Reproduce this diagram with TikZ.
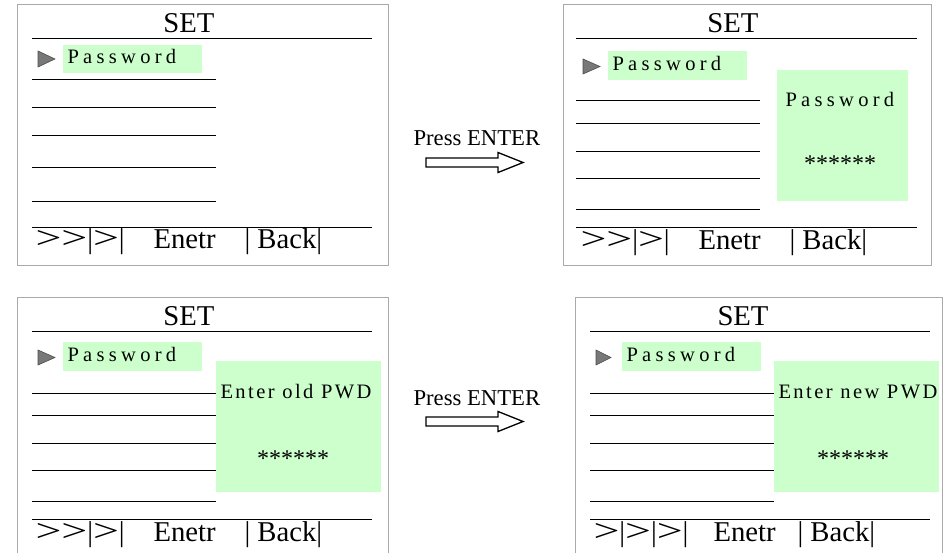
\documentclass[tikz,border=0pt]{standalone}
\usepackage{graphicx}
\usepackage{fontspec}
\setmainfont{Liberation Serif}
\newfontfamily\menufont[LetterSpace=21]{Liberation Serif}
\newfontfamily\promptfont[LetterSpace=12]{Liberation Serif}
\newcommand\widegt{\scalebox{1.6}[1.1]{>}}
\definecolor{lcdgreen}{RGB}{204,255,204}
\definecolor{framegray}{RGB}{170,170,170}
\definecolor{markgray}{RGB}{120,120,120}

\begin{document}
\begin{tikzpicture}[x=1pt,y=-1pt,line width=1pt,
    screen/.style={draw=framegray},
    hilite/.style={fill=lcdgreen},
    bigtxt/.style={inner sep=0,anchor=base west,font=\fontsize{28.7}{30}\selectfont},
    menutxt/.style={inner sep=0,anchor=base west,font=\fontsize{20.5}{22}\menufont},
    prompttxt/.style={inner sep=0,anchor=base west,font=\fontsize{20.5}{22}\promptfont},
    startxt/.style={inner sep=0,anchor=base,font=\fontsize{24}{26}\selectfont},
    presstxt/.style={inner sep=0,anchor=base west,font=\fontsize{22.7}{24}\selectfont},
    marker/.style={fill=markgray,draw=black!70,line width=0.6pt},
    blockarrow/.style={draw,fill=white,line width=1.3pt}]
\useasboundingbox (0,0) rectangle (944,553);

% Screen 1: menu
\draw[screen] (17,5) rectangle (388,265);
\node[bigtxt,anchor=base] (setA) at (189,33) {SET};
\draw (32,39) -- (372,39);
\draw[marker] (38,51) -- (55,59) -- (38,67) -- cycle;
\fill[hilite] (63,45) rectangle (202,73);
\node[menutxt] (pwdA) at (67,64) {Password};
\foreach \y in {80,108,136,168,202}
  \draw (32,\y) -- (216,\y);
\draw (32,228) -- (372,228);
\node[bigtxt] (keysA) at (35,248) {\widegt\widegt|\widegt|};
\node[bigtxt] (enterA) at (153,248) {Enetr};
\node[bigtxt] (backA) at (244,248) {| Back|};

% Press ENTER (top)
\node[presstxt] (pressA) at (413,146) {Press ENTER};
\coordinate (arrA) at (426,162.5);
\draw[blockarrow] (arrA) ++(0,-4.5) -- ++(72,0) -- ++(0,-5.5) -- ++(25,10)
  -- ++(-25,10) -- ++(0,-5.5) -- ++(-72,0) -- cycle;

% Screen 2: password box
\draw[screen] (563,5) rectangle (931,265);
\node[bigtxt,anchor=base] (setB) at (733,33) {SET};
\draw (576,39) -- (917,39);
\draw[marker] (583,59) -- (600,66.5) -- (583,74) -- cycle;
\fill[hilite] (608,51) rectangle (747,80);
\node[menutxt] (pwdB) at (612,71) {Password};
\foreach \y in {101,124,152,179,210}
  \draw (576,\y) -- (760,\y);
\fill[hilite] (777,70) rectangle (908,201);
\node[menutxt] (askB) at (785,107) {Password};
\node[startxt] (starB) at (840,172) {******};
\draw (576,228) -- (917,228);
\node[bigtxt] (keysB) at (580,249) {\widegt\widegt|\widegt|};
\node[bigtxt] (enterB) at (698,249) {Enetr};
\node[bigtxt] (backB) at (789,249) {| Back|};

% Screen 3: old password
\draw[screen] (17,553) -- (17,297) -- (388,297) -- (388,553);
\node[bigtxt,anchor=base] (setC) at (189,325) {SET};
\draw (32,331) -- (372,331);
\draw[marker] (38,350) -- (55,357.5) -- (38,365) -- cycle;
\fill[hilite] (63,342) rectangle (202,371);
\node[menutxt] (pwdC) at (67,361) {Password};
\foreach \y in {393,415,443,470,501}
  \draw (32,\y) -- (216,\y);
\fill[hilite] (216,361) rectangle (381,492);
\node[prompttxt] (askC) at (220,398) {Enter old PWD};
\node[startxt] (starC) at (293,466) {******};
\draw (32,519) -- (372,519);
\node[bigtxt] (keysC) at (35,541) {\widegt\widegt|\widegt|};
\node[bigtxt] (enterC) at (153,541) {Enetr};
\node[bigtxt] (backC) at (244,541) {| Back|};

% Press ENTER (bottom)
\node[presstxt] (pressB) at (413,405) {Press ENTER};
\coordinate (arrB) at (426,421.5);
\draw[blockarrow] (arrB) ++(0,-4.5) -- ++(72,0) -- ++(0,-5.5) -- ++(25,10)
  -- ++(-25,10) -- ++(0,-5.5) -- ++(-72,0) -- cycle;

% Screen 4: new password
\draw[screen] (575,553) -- (575,297) -- (942.5,297) -- (942.5,553);
\node[bigtxt,anchor=base] (setD) at (743,325) {SET};
\draw (590,331) -- (930,331);
\draw[marker] (596,350) -- (611,357.5) -- (596,365) -- cycle;
\fill[hilite] (622,342) rectangle (761,371);
\node[menutxt] (pwdD) at (626,361) {Password};
\foreach \y in {393,415,443,470,501}
  \draw (590,\y) -- (774,\y);
\fill[hilite] (774,361) rectangle (939,492);
\node[prompttxt] (askD) at (778,398) {Enter new PWD};
\node[startxt] (starD) at (853,466) {******};
\draw (590,519) -- (930,519);
\node[bigtxt] (keysD) at (593,541) {\widegt|\widegt|\widegt|};
\node[bigtxt] (enterD) at (713,541) {Enetr};
\node[bigtxt] (backD) at (797,541) {| Back|};
\end{tikzpicture}
\end{document}
